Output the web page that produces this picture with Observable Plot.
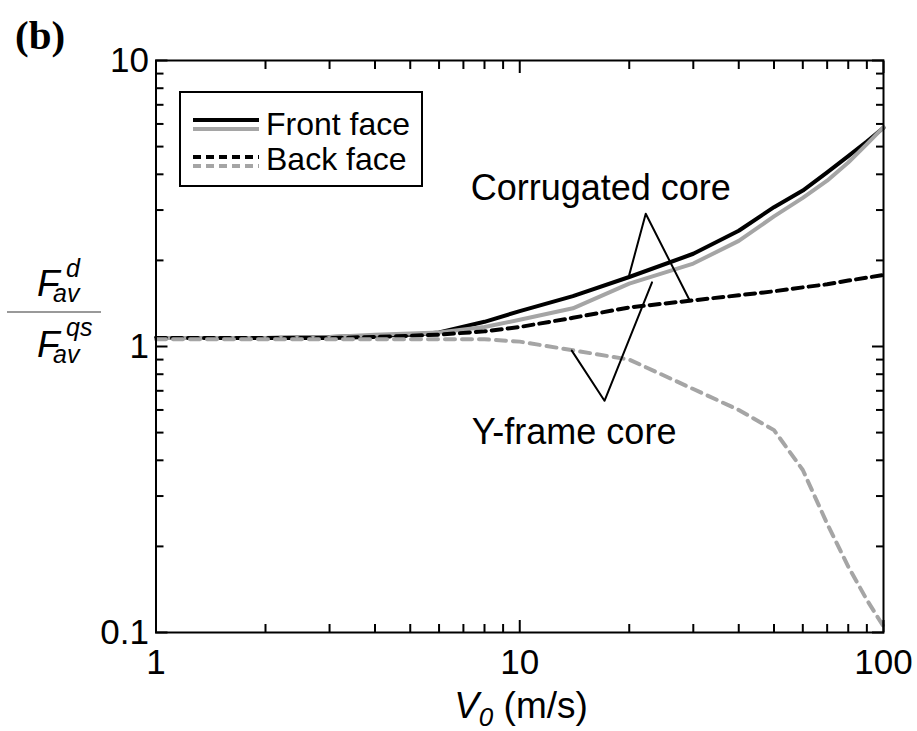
<!DOCTYPE html>
<html>
<head>
<meta charset="utf-8">
<script src="https://cdn.jsdelivr.net/npm/d3@7"></script>
<script src="https://cdn.jsdelivr.net/npm/@observablehq/plot@0.6"></script>
<style>
  html, body { margin: 0; padding: 0; background: #fff; }
  #chart { position: relative; width: 917px; height: 731px; }
  #chart svg.overlay { position: absolute; left: 0; top: 0; pointer-events: none; }
</style>
</head>
<body>
<div id="chart"></div>
<script>
// Impact velocity V0 (m/s) at which the average forces were evaluated
const velocity = [1, 2, 3, 4, 5, 6, 8, 10, 14, 20, 30, 40, 50, 60, 70, 80, 90, 100];

// Dynamic / quasi-static average force ratio
const corrugatedFront = [1.07, 1.07, 1.08, 1.09, 1.10, 1.12, 1.22, 1.33, 1.50, 1.75, 2.11, 2.54, 3.07, 3.51, 4.06, 4.63, 5.21, 5.82];
const corrugatedBack  = [1.07, 1.07, 1.07, 1.08, 1.09, 1.10, 1.13, 1.17, 1.26, 1.37, 1.45, 1.51, 1.56, 1.61, 1.65, 1.70, 1.74, 1.78];
const yframeFront     = [1.07, 1.07, 1.08, 1.10, 1.11, 1.12, 1.17, 1.24, 1.36, 1.66, 1.95, 2.34, 2.85, 3.31, 3.80, 4.40, 5.10, 5.85];
const yframeBack      = [1.06, 1.06, 1.06, 1.06, 1.06, 1.06, 1.06, 1.04, 0.97, 0.90, 0.71, 0.60, 0.51, 0.37, 0.24, 0.17, 0.13, 0.105];

// Axis ticks
const xMajorTicks = [1, 10, 100];
const xMinorTicks = [2, 3, 4, 5, 6, 7, 8, 9, 20, 30, 40, 50, 60, 70, 80, 90];
const yMajorTicks = [0.1, 1, 10];
const yMinorTicks = [0.2, 0.3, 0.4, 0.5, 0.6, 0.7, 0.8, 0.9, 2, 3, 4, 5, 6, 7, 8, 9];

// Labels
const legendLabels = ["Front face", "Back face"];
const coreLabels = ["Corrugated core", "Y-frame core"];
const coreLabelPos = [[16.7, 3.56], [14.1, 0.50]];

// Leader lines from each core label to its two curves: end1, apex, end2
const corrugatedLeader = [[[20, 1.78], [22.2, 2.91], [29.4, 1.44]]];
const yframeLeader = [[[13.9, 0.967], [17.1, 0.646], [23.1, 1.676]]];

const GRAY = "#a5a5a5";
const FONT = "'Liberation Sans', Arial, Helvetica, sans-serif";

const series = [
  {values: corrugatedFront, stroke: "#000", dash: null},
  {values: yframeFront, stroke: GRAY, dash: null},
  {values: corrugatedBack, stroke: "#000", dash: "10,6"},
  {values: yframeBack, stroke: GRAY, dash: "10,7"}
];

const lineMarks = series.map(s =>
  Plot.line(velocity.map((v, i) => ({v, f: s.values[i]})), {
    x: "v", y: "f", stroke: s.stroke, strokeWidth: 4,
    strokeDasharray: s.dash, curve: "linear"
  })
);

const leaderMarks = [...corrugatedLeader, ...yframeLeader].map(pts =>
  Plot.line(pts, {x: d => d[0], y: d => d[1], stroke: "#000", strokeWidth: 2})
);

const tickStyle = {stroke: "#000", strokeWidth: 2, text: null, label: null};

const chart = Plot.plot({
  width: 917,
  height: 731,
  marginLeft: 155.5,
  marginRight: 34,
  marginTop: 60,
  marginBottom: 99,
  style: {fontFamily: FONT, fontSize: "34px", background: "#fff", color: "#000"},
  x: {type: "log", domain: [1, 100], axis: null},
  y: {type: "log", domain: [0.1, 10], axis: null},
  marks: [
    ...lineMarks,
    ...leaderMarks,
    Plot.text(coreLabels, {
      x: (d, i) => coreLabelPos[i][0], y: (d, i) => coreLabelPos[i][1],
      text: d => d, fontSize: 36, fill: "#000", textAnchor: "middle", lineAnchor: "middle"
    }),
    // inward ticks on all four sides
    Plot.axisX(xMinorTicks, {anchor: "bottom", tickSize: -8, ...tickStyle}),
    Plot.axisX(xMajorTicks, {anchor: "bottom", tickSize: -12, ...tickStyle}),
    Plot.axisX(xMinorTicks, {anchor: "top", tickSize: -8, ...tickStyle}),
    Plot.axisX(xMajorTicks, {anchor: "top", tickSize: -12, ...tickStyle}),
    Plot.axisY(yMinorTicks, {anchor: "left", tickSize: -8, ...tickStyle}),
    Plot.axisY(yMajorTicks, {anchor: "left", tickSize: -12, ...tickStyle}),
    Plot.axisY(yMinorTicks, {anchor: "right", tickSize: -8, ...tickStyle}),
    Plot.axisY(yMajorTicks, {anchor: "right", tickSize: -12, ...tickStyle}),
    // tick labels
    Plot.axisX(xMajorTicks, {anchor: "bottom", tickSize: 0, tickPadding: 17, fontSize: 35, tickFormat: d => String(d), label: null}),
    Plot.axisY(yMajorTicks, {anchor: "left", tickSize: 0, tickPadding: 7, fontSize: 35, tickFormat: d => String(d), label: null}),
    Plot.frame({stroke: "#000", strokeWidth: 2})
  ]
});

const root = document.getElementById("chart");
root.appendChild(chart);

// Overlay: panel tag, axis titles, legend
const svg = d3.select(root).append("svg")
  .attr("class", "overlay")
  .attr("width", 917).attr("height", 731)
  .style("font-family", FONT);

svg.append("text")
  .attr("x", 15).attr("y", 49)
  .style("font-family", "'Liberation Serif', 'Times New Roman', serif")
  .style("font-weight", "bold").style("font-size", "41px")
  .text("(b)");

// y title: F_av^d / F_av^qs
function forceTerm(g, x, baseline, sup, supDy) {
  const t = g.append("text").attr("x", x).attr("y", baseline).style("font-style", "italic");
  t.append("tspan").style("font-size", "37px").text("F");
  t.append("tspan").attr("x", x + 16).attr("dy", 6).style("font-size", "25px").text("av");
  t.append("tspan").attr("x", x + 29).attr("dy", supDy).style("font-size", "25px").text(sup);
}
const yt = svg.append("g");
forceTerm(yt, 37, 296, "d", -25);
yt.append("line").attr("x1", 7).attr("x2", 101).attr("y1", 312).attr("y2", 312)
  .attr("stroke", "#777").attr("stroke-width", 1.5);
forceTerm(yt, 37, 357, "qs", -27);

// x title: V0 (m/s)
const xt = svg.append("text").attr("x", 521).attr("y", 718)
  .attr("text-anchor", "middle").style("font-size", "37px");
xt.append("tspan").style("font-style", "italic").text("V");
xt.append("tspan").style("font-style", "italic").style("font-size", "26px").attr("dy", 8).text("0");
xt.append("tspan").attr("dy", -8).text(" (m/s)");

// legend
const lg = svg.append("g");
lg.append("rect").attr("x", 180).attr("y", 92).attr("width", 242).attr("height", 94)
  .attr("fill", "#fff").attr("stroke", "#000").attr("stroke-width", 2);
const legendRows = [
  {label: legendLabels[0], dash: null, ys: [120, 129], baseline: 135},
  {label: legendLabels[1], dash: "8,5", ys: [157, 166], baseline: 170}
];
legendRows.forEach(r => {
  lg.append("line").attr("x1", 193).attr("x2", 259).attr("y1", r.ys[0]).attr("y2", r.ys[0])
    .attr("stroke", "#000").attr("stroke-width", 4).attr("stroke-dasharray", r.dash);
  lg.append("line").attr("x1", 193).attr("x2", 259).attr("y1", r.ys[1]).attr("y2", r.ys[1])
    .attr("stroke", GRAY).attr("stroke-width", 4).attr("stroke-dasharray", r.dash);
  lg.append("text").attr("x", 266).attr("y", r.baseline).style("font-size", "32px").text(r.label);
});
</script>
</body>
</html>
